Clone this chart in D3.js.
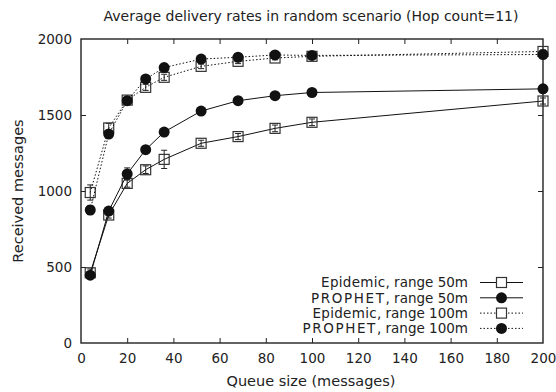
<!DOCTYPE html>
<html>
<head>
<meta charset="utf-8">
<script src="https://cdn.jsdelivr.net/npm/d3@7"></script>
<style>
  html, body { margin: 0; padding: 0; background: #fff; }
  svg { display: block; }
  text { font-family: "DejaVu Sans", sans-serif; fill: #222; }
</style>
</head>
<body>
<svg id="chart" width="556" height="392"></svg>
<script>
// Queue sizes (messages)
const queueSizes = [4, 12, 20, 28, 36, 52, 68, 84, 100, 200];

// Received messages per protocol / radio range
const epidemic50 = [462, 842, 1050, 1140, 1208, 1314, 1358, 1412, 1452, 1592];
const prophet50 = [446, 868, 1112, 1272, 1388, 1526, 1594, 1627, 1648, 1672];
const epidemic100 = [990, 1415, 1598, 1682, 1748, 1820, 1853, 1875, 1886, 1918];
const prophet100 = [875, 1375, 1594, 1737, 1812, 1868, 1880, 1895, 1892, 1898];

// Error bar half-widths
const epidemic50Err = [25, 20, 25, 25, 60, 20, 20, 22, 22, 20];
const prophet50Err = [15, 25, 40, 15, 15, 10, 10, 10, 10, 10];
const epidemic100Err = [50, 30, 20, 20, 20, 15, 15, 12, 10, 10];
const prophet100Err = [30, 20, 20, 15, 15, 10, 10, 10, 10, 10];

const seriesProtocols = ["Epidemic", "PROPHET", "Epidemic", "PROPHET"];
const seriesRanges = [", range 50m", ", range 50m", ", range 100m", ", range 100m"];
const xTicks = [0, 20, 40, 60, 80, 100, 120, 140, 160, 180, 200];
const yTicks = [0, 500, 1000, 1500, 2000];

const titleText = "Average delivery rates in random scenario (Hop count=11)";
const xTitle = "Queue size (messages)";
const yTitle = "Received messages";

const series = [
  { protocol: seriesProtocols[0], range: seriesRanges[0], values: epidemic50, err: epidemic50Err, marker: "square", dotted: false },
  { protocol: seriesProtocols[1], range: seriesRanges[1], values: prophet50, err: prophet50Err, marker: "circle", dotted: false },
  { protocol: seriesProtocols[2], range: seriesRanges[2], values: epidemic100, err: epidemic100Err, marker: "square", dotted: true },
  { protocol: seriesProtocols[3], range: seriesRanges[3], values: prophet100, err: prophet100Err, marker: "circle", dotted: true }
];

const svg = d3.select("#chart");
const plotLeft = 81, plotRight = 543, plotTop = 39, plotBottom = 343;

const x = d3.scaleLinear().domain([0, 200]).range([plotLeft, plotRight]);
const y = d3.scaleLinear().domain([0, 2000]).range([plotBottom, plotTop]);

const axisColor = "#222";
const tickLen = 5;
const tickFont = "13.5px";

// Tick marks on all four sides, pointing inward
const bottomAxis = svg.append("g").attr("transform", `translate(0,${plotBottom})`)
  .call(d3.axisBottom(x).tickValues(xTicks).tickSizeInner(-tickLen).tickSizeOuter(0).tickPadding(10).tickFormat(d3.format("d")));
const topAxis = svg.append("g").attr("transform", `translate(0,${plotTop})`)
  .call(d3.axisTop(x).tickValues(xTicks.slice(1, -1)).tickSizeInner(-tickLen).tickSizeOuter(0).tickFormat(""));
const leftAxis = svg.append("g").attr("transform", `translate(${plotLeft},0)`)
  .call(d3.axisLeft(y).tickValues(yTicks).tickSizeInner(-tickLen).tickSizeOuter(0).tickPadding(9).tickFormat(d3.format("d")));
const rightAxis = svg.append("g").attr("transform", `translate(${plotRight},0)`)
  .call(d3.axisRight(y).tickValues(yTicks.slice(1, -1)).tickSizeInner(-tickLen).tickSizeOuter(0).tickFormat(""));

[bottomAxis, topAxis, leftAxis, rightAxis].forEach(g => {
  g.select(".domain").remove();
  g.selectAll(".tick line").attr("stroke", axisColor).attr("stroke-width", 1);
  g.selectAll(".tick text").attr("fill", "#222").style("font-size", tickFont).style("font-family", "DejaVu Sans, sans-serif");
});
bottomAxis.selectAll(".tick line").filter(d => d === 0 || d === 200).remove();
leftAxis.selectAll(".tick line").filter(d => d === 0 || d === 2000).remove();

// Plot frame
svg.append("rect")
  .attr("x", plotLeft).attr("y", plotTop)
  .attr("width", plotRight - plotLeft).attr("height", plotBottom - plotTop)
  .attr("fill", "none").attr("stroke", axisColor).attr("stroke-width", 1.4);

const line = d3.line().x(d => x(d[0])).y(d => y(d[1]));

const plot = svg.append("g");

series.forEach(s => {
  const pts = queueSizes.map((q, i) => [q, s.values[i], s.err[i]]);
  const g = plot.append("g");

  g.append("path")
    .datum(pts)
    .attr("fill", "none")
    .attr("stroke", "#111")
    .attr("stroke-width", 1)
    .attr("stroke-dasharray", s.dotted ? "1.5,2" : null)
    .attr("d", line);

  // Error bars
  const eb = g.selectAll(".eb").data(pts).enter().append("g");
  eb.append("line")
    .attr("x1", d => x(d[0])).attr("x2", d => x(d[0]))
    .attr("y1", d => y(d[1] - d[2])).attr("y2", d => y(d[1] + d[2]))
    .attr("stroke", "#222").attr("stroke-width", 1);
  eb.append("line")
    .attr("x1", d => x(d[0]) - 3).attr("x2", d => x(d[0]) + 3)
    .attr("y1", d => y(d[1] - d[2])).attr("y2", d => y(d[1] - d[2]))
    .attr("stroke", "#222").attr("stroke-width", 1);
  eb.append("line")
    .attr("x1", d => x(d[0]) - 3).attr("x2", d => x(d[0]) + 3)
    .attr("y1", d => y(d[1] + d[2])).attr("y2", d => y(d[1] + d[2]))
    .attr("stroke", "#222").attr("stroke-width", 1);

  if (s.marker === "square") {
    g.selectAll(".mk").data(pts).enter().append("rect")
      .attr("x", d => x(d[0]) - 5).attr("y", d => y(d[1]) - 5)
      .attr("width", 10).attr("height", 10)
      .attr("fill", "none").attr("stroke", "#333").attr("stroke-width", 1.2);
  } else {
    g.selectAll(".mk").data(pts).enter().append("circle")
      .attr("cx", d => x(d[0])).attr("cy", d => y(d[1]))
      .attr("r", 5.5).attr("fill", "#111");
  }
});

// Legend (bottom right, inside the frame)
const legendRows = [282.5, 297.8, 313.1, 328.4];
const legendTextEnd = 468, legendLineStart = 480, legendLineEnd = 523, legendMarkX = 501.5;
const legend = svg.append("g");
series.forEach((s, i) => {
  const ly = legendRows[i];
  const t = legend.append("text")
    .attr("x", legendTextEnd).attr("y", ly).attr("dy", "0.36em")
    .attr("text-anchor", "end")
    .style("font-size", "13.5px");
  t.append("tspan")
    .attr("letter-spacing", s.protocol === "PROPHET" ? "1.6px" : "0.3px")
    .text(s.protocol);
  t.append("tspan").text(s.range);
  legend.append("line")
    .attr("x1", legendLineStart).attr("x2", legendLineEnd).attr("y1", ly).attr("y2", ly)
    .attr("stroke", "#111").attr("stroke-width", 1)
    .attr("stroke-dasharray", s.dotted ? "1.5,2" : null);
  if (s.marker === "square") {
    legend.append("rect")
      .attr("x", legendMarkX - 5).attr("y", ly - 5).attr("width", 10).attr("height", 10)
      .attr("fill", "#fff").attr("stroke", "#333").attr("stroke-width", 1.2);
  } else {
    legend.append("circle").attr("cx", legendMarkX).attr("cy", ly).attr("r", 5.5).attr("fill", "#111");
  }
});

// Titles
svg.append("text")
  .attr("x", 311).attr("y", 21)
  .attr("text-anchor", "middle")
  .style("font-size", "14px")
  .text(titleText);

svg.append("text")
  .attr("x", 311).attr("y", 386)
  .attr("text-anchor", "middle")
  .style("font-size", "14.5px")
  .text(xTitle);

svg.append("text")
  .attr("transform", "translate(23,191) rotate(-90)")
  .attr("text-anchor", "middle")
  .style("font-size", "14.5px")
  .text(yTitle);
</script>
</body>
</html>
